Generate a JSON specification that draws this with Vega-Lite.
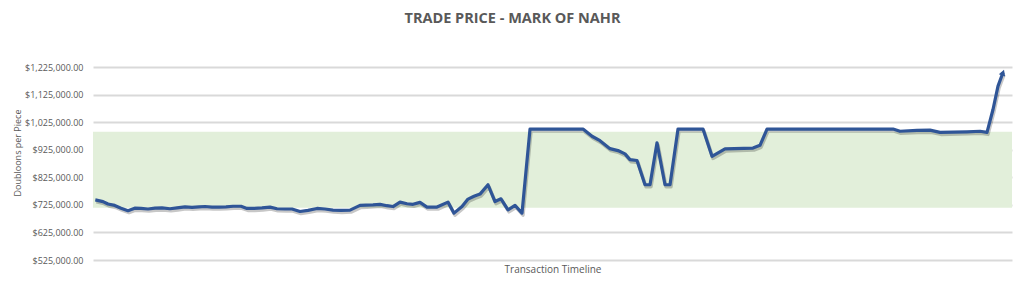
{
  "$schema": "https://vega.github.io/schema/vega-lite/v6.json",
  "width": 919,
  "height": 215,
  "autosize": "none",
  "padding": {"left": 93, "top": 45, "right": 12, "bottom": 28},
  "background": "white",
  "config": {"view": {"stroke": null}, "font": "Open Sans"},
  "title": {"text": "TRADE PRICE - MARK OF NAHR", "fontSize": 14.5, "fontWeight": "bold", "color": "#595959", "dx": -40, "offset": 19, "font": "Open Sans"},
  "resolve": {"axis": {"y": "independent"}},
  "datasets": {
    "band": [{"low": 715000, "high": 990000}],
    "prices": [
      {"t": 2.3, "price": 743000}, {"t": 10, "price": 737000}, {"t": 15, "price": 728000}, {"t": 21.7, "price": 723000},
      {"t": 28, "price": 713000}, {"t": 35, "price": 704000}, {"t": 41.7, "price": 713000}, {"t": 48, "price": 712000},
      {"t": 55, "price": 710000}, {"t": 62, "price": 713000}, {"t": 69, "price": 714000}, {"t": 77, "price": 711000},
      {"t": 84, "price": 714000}, {"t": 92, "price": 718000}, {"t": 99, "price": 716000}, {"t": 106, "price": 718000},
      {"t": 112, "price": 719000}, {"t": 119, "price": 717000}, {"t": 126, "price": 717000}, {"t": 133, "price": 718000},
      {"t": 140, "price": 720000}, {"t": 148, "price": 720000}, {"t": 154, "price": 712000}, {"t": 161, "price": 712000},
      {"t": 169, "price": 714000}, {"t": 177, "price": 717000}, {"t": 184, "price": 711000}, {"t": 192, "price": 710000},
      {"t": 199, "price": 710000}, {"t": 207, "price": 701000}, {"t": 215, "price": 705000}, {"t": 224, "price": 712000},
      {"t": 232, "price": 710000}, {"t": 240, "price": 706000}, {"t": 248, "price": 705000}, {"t": 257, "price": 706000},
      {"t": 267, "price": 723000}, {"t": 273, "price": 724000}, {"t": 280, "price": 725000}, {"t": 287, "price": 727000},
      {"t": 294, "price": 722000}, {"t": 300, "price": 719000}, {"t": 307, "price": 735000}, {"t": 314, "price": 729000},
      {"t": 320, "price": 727000}, {"t": 327, "price": 734000}, {"t": 334, "price": 717000}, {"t": 344, "price": 717000},
      {"t": 355, "price": 735000}, {"t": 361, "price": 695000}, {"t": 369, "price": 719000}, {"t": 375, "price": 746000},
      {"t": 381, "price": 756000}, {"t": 387, "price": 764000}, {"t": 395, "price": 798000}, {"t": 402, "price": 737000},
      {"t": 408, "price": 747000}, {"t": 415, "price": 707000}, {"t": 422, "price": 723000}, {"t": 429, "price": 695000},
      {"t": 437, "price": 1000000}, {"t": 490, "price": 1000000}, {"t": 499, "price": 974000}, {"t": 507, "price": 958000},
      {"t": 517, "price": 929000}, {"t": 525, "price": 922000}, {"t": 532, "price": 910000}, {"t": 537, "price": 889000},
      {"t": 544, "price": 886000}, {"t": 552, "price": 798000}, {"t": 557, "price": 798000}, {"t": 564, "price": 950000},
      {"t": 572, "price": 798000}, {"t": 577, "price": 798000}, {"t": 585, "price": 1000000}, {"t": 610, "price": 1000000},
      {"t": 619, "price": 901000}, {"t": 632, "price": 928000}, {"t": 660, "price": 931000}, {"t": 667, "price": 941000},
      {"t": 674, "price": 1000000}, {"t": 800, "price": 1000000}, {"t": 807, "price": 992000}, {"t": 824, "price": 995000},
      {"t": 837, "price": 996000}, {"t": 847, "price": 988000}, {"t": 874, "price": 990000}, {"t": 887, "price": 992000},
      {"t": 894, "price": 988000}, {"t": 900, "price": 1071000}, {"t": 905, "price": 1156000}, {"t": 910, "price": 1205000}
    ]
  },
  "layer": [
    {
      "data": {"name": "band"},
      "mark": {"type": "rect", "color": "#e2efda"},
      "encoding": {
        "y": {"field": "low", "type": "quantitative",
          "scale": {"domain": [525000, 1305000], "nice": false, "zero": false},
          "axis": {
            "orient": "left",
            "title": "Doubloons per Piece",
            "values": [525000, 625000, 725000, 825000, 925000, 1025000, 1125000, 1225000],
            "format": "$,.2f",
            "labelOverlap": false,
            "gridColor": "#d9d9d9",
            "gridWidth": 2,
            "ticks": false, "domain": false,
            "labelColor": "#595959", "labelFontSize": 9, "labelPadding": 10,
            "titleFontSize": 9, "titleColor": "#595959", "titleFontWeight": "normal", "titlePadding": 2
          }},
        "y2": {"field": "high"}
      }
    },
    {
      "data": {"name": "prices"},
      "mark": {"type": "line", "color": "#000000", "opacity": 0.22, "strokeWidth": 3.5, "xOffset": 1, "yOffset": 2, "strokeJoin": "round"},
      "encoding": {
        "x": {"field": "t", "type": "quantitative", "scale": {"domain": [0, 919], "nice": false, "zero": false},
          "axis": {"title": "Transaction Timeline", "labels": false, "ticks": false, "domain": false, "grid": false,
            "titleFontSize": 10, "titleColor": "#595959", "titleFontWeight": "normal", "titlePadding": 4}},
        "y": {"field": "price", "type": "quantitative",
          "axis": {
            "orient": "left",
            "title": null,
            "labels": false,
            "values": [545000, 565000, 585000, 605000, 645000, 665000, 685000, 705000, 745000, 765000, 785000, 805000, 845000, 865000, 885000, 905000, 945000, 965000, 985000, 1005000, 1045000, 1065000, 1085000, 1105000, 1145000, 1165000, 1185000, 1205000, 1245000, 1265000, 1285000, 1305000],
            "gridColor": "#e6e6e6",
            "gridWidth": 1,
            "ticks": false, "domain": false
          }}
      }
    },
    {
      "data": {"name": "prices"},
      "mark": {"type": "line", "color": "#2f5597", "strokeWidth": 3.2, "strokeJoin": "round"},
      "encoding": {
        "x": {"field": "t", "type": "quantitative"},
        "y": {"field": "price", "type": "quantitative", "axis": null}
      }
    },
    {
      "data": {"name": "prices"},
      "transform": [{"filter": "datum.t === 910"}],
      "mark": {"type": "point", "shape": "triangle-up", "angle": 20, "size": 45, "filled": true, "opacity": 1, "color": "#2f5597"},
      "encoding": {
        "x": {"field": "t", "type": "quantitative"},
        "y": {"field": "price", "type": "quantitative", "axis": null}
      }
    }
  ]
}
